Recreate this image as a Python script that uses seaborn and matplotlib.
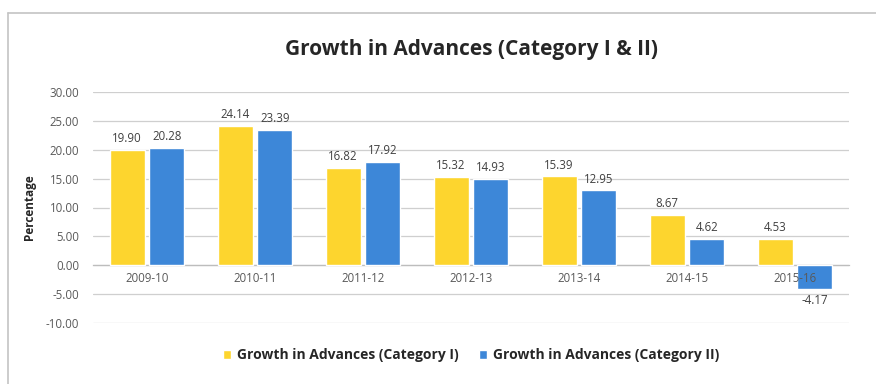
import matplotlib
matplotlib.use("Agg")
import matplotlib.pyplot as plt
from matplotlib.lines import Line2D
from matplotlib.ticker import FormatStrFormatter
import pandas as pd
import seaborn as sns

# Growth in advances by financial year, in percent
years = ["2009-10", "2010-11", "2011-12", "2012-13", "2013-14", "2014-15", "2015-16"]
category_1 = [19.90, 24.14, 16.82, 15.32, 15.39, 8.67, 4.53]
category_2 = [20.28, 23.39, 17.92, 14.93, 12.95, 4.62, -4.17]
series_names = ["Growth in Advances (Category I)", "Growth in Advances (Category II)"]
y_ticks = [-10, -5, 0, 5, 10, 15, 20, 25, 30]

colors = ["#FDD52E", "#3D87D8"]
grid_color = "#cfcfcf"
text_color = "#595959"

df = pd.DataFrame({
    "Year": years + years,
    "Series": [series_names[0]] * len(years) + [series_names[1]] * len(years),
    "Value": category_1 + category_2,
})

sns.set_theme(style="white")
plt.rcParams["font.family"] = ["Open Sans", "DejaVu Sans"]

W, H = 876, 384
fig = plt.figure(figsize=(W / 100, H / 100), dpi=100)
ax = fig.add_axes([93 / W, 1 - 323 / H, (849 - 93) / W, (323 - 92) / H])

sns.barplot(data=df, x="Year", y="Value", hue="Series", palette=colors,
            width=0.74, gap=0.125, ax=ax, saturation=1)

# value labels above (or below) each bar
for container in ax.containers:
    ax.bar_label(container, fmt="%.2f", padding=3.5, fontsize=8.3, color="#404040")

ax.set_ylim(-10, 30)
ax.set_yticks(y_ticks)
ax.yaxis.set_major_formatter(FormatStrFormatter("%.2f"))
ax.yaxis.grid(True, color=grid_color, linewidth=0.9)
ax.xaxis.grid(False)

# gridlines behind the bars, category labels in front of them
ax.yaxis.set_zorder(0.5)
ax.xaxis.set_zorder(3)

for side in ["left", "right", "top"]:
    ax.spines[side].set_visible(False)
ax.spines["bottom"].set_position(("data", 0))
ax.spines["bottom"].set_color("#bdbdbd")
ax.spines["bottom"].set_linewidth(0.9)
ax.spines["bottom"].set_zorder(0.6)

ax.tick_params(axis="y", length=0, pad=10, labelsize=8.3, labelcolor=text_color)
ax.tick_params(axis="x", length=0, pad=5, labelsize=8.3, labelcolor=text_color)

ax.set_xlabel("")
ax.set_ylabel("Percentage", fontsize=8.5, fontweight="bold", color="#262626", labelpad=7)

# legend below the plot, centred
handles, labels = ax.get_legend_handles_labels()
ax.get_legend().remove()
fig.legend(handles, labels, loc="center", bbox_to_anchor=(471 / W, 1 - 355 / H),
           ncol=2, frameon=False, handlelength=0.6, handleheight=0.6,
           handletextpad=0.4, columnspacing=1.5,
           prop={"weight": "bold", "size": 10})
for t in fig.legends[0].get_texts():
    t.set_color("#262626")

fig.text(471 / W, 1 - 50 / H, "Growth in Advances (Category I & II)",
         ha="center", va="center", fontsize=15, fontweight="bold", color="#262626")

# chart frame (top and left edges)
frame = "#c4c4c4"
fig.add_artist(Line2D([8 / W, 1], [1 - 13 / H, 1 - 13 / H], color=frame, lw=1.2))
fig.add_artist(Line2D([8 / W, 8 / W], [0, 1 - 13 / H], color=frame, lw=1.2))

fig.savefig("out.png", dpi=100, facecolor="white")
